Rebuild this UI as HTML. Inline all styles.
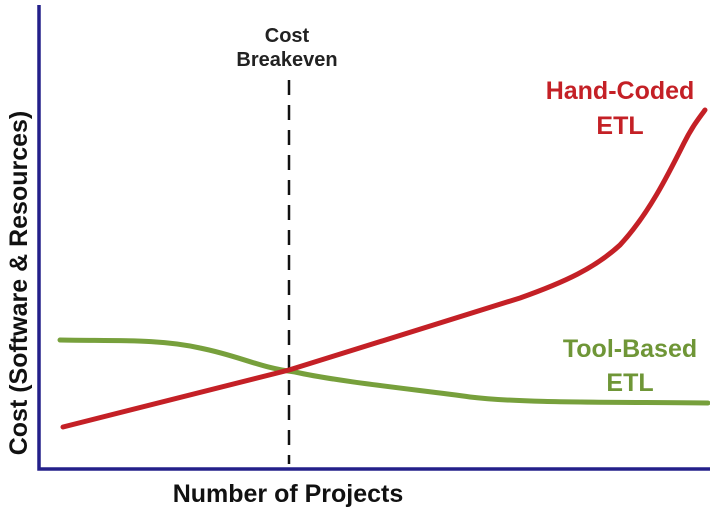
<!DOCTYPE html>
<html><head><meta charset="utf-8"><style>
html,body{margin:0;padding:0;background:#fff;}
svg{display:block}
text{font-family:"Liberation Sans",Arial,sans-serif;font-weight:bold}
</style></head><body>
<svg width="710" height="510" viewBox="0 0 710 510">
<path d="M39,5 L39,469 L710,469" fill="none" stroke="#24208a" stroke-width="3.5"/>
<line x1="289" y1="80" x2="289" y2="464" stroke="#111" stroke-width="2.5" stroke-dasharray="15,10"/>
<path d="M60,340 C120,341 160,339 200,348 C240,356 260,368 295,372 C340,382 420,390 470,397 C520,403 600,402 708,403" fill="none" stroke="#77a03c" stroke-width="5" stroke-linecap="round"/>
<path d="M63,427 L289,370 L520,298 C565,282 595,268 620,245 C648,215 668,175 684,143 C692,127 699,118 705,110" fill="none" stroke="#c42026" stroke-width="5" stroke-linecap="round"/>
<text x="287" y="42" font-size="20" text-anchor="middle" fill="#222">Cost</text>
<text x="287" y="66" font-size="20" text-anchor="middle" fill="#222">Breakeven</text>
<text x="620" y="99" font-size="25" text-anchor="middle" fill="#c42026">Hand-Coded</text>
<text x="620" y="134" font-size="25" text-anchor="middle" fill="#c42026">ETL</text>
<text x="630" y="357" font-size="25" text-anchor="middle" fill="#6f9637">Tool-Based</text>
<text x="630" y="391" font-size="25" text-anchor="middle" fill="#6f9637">ETL</text>
<text x="288" y="502" font-size="25" text-anchor="middle" fill="#111">Number of Projects</text>
<text transform="translate(27,283) rotate(-90)" font-size="25" text-anchor="middle" fill="#111">Cost (Software &amp; Resources)</text>
</svg>
</body></html>
